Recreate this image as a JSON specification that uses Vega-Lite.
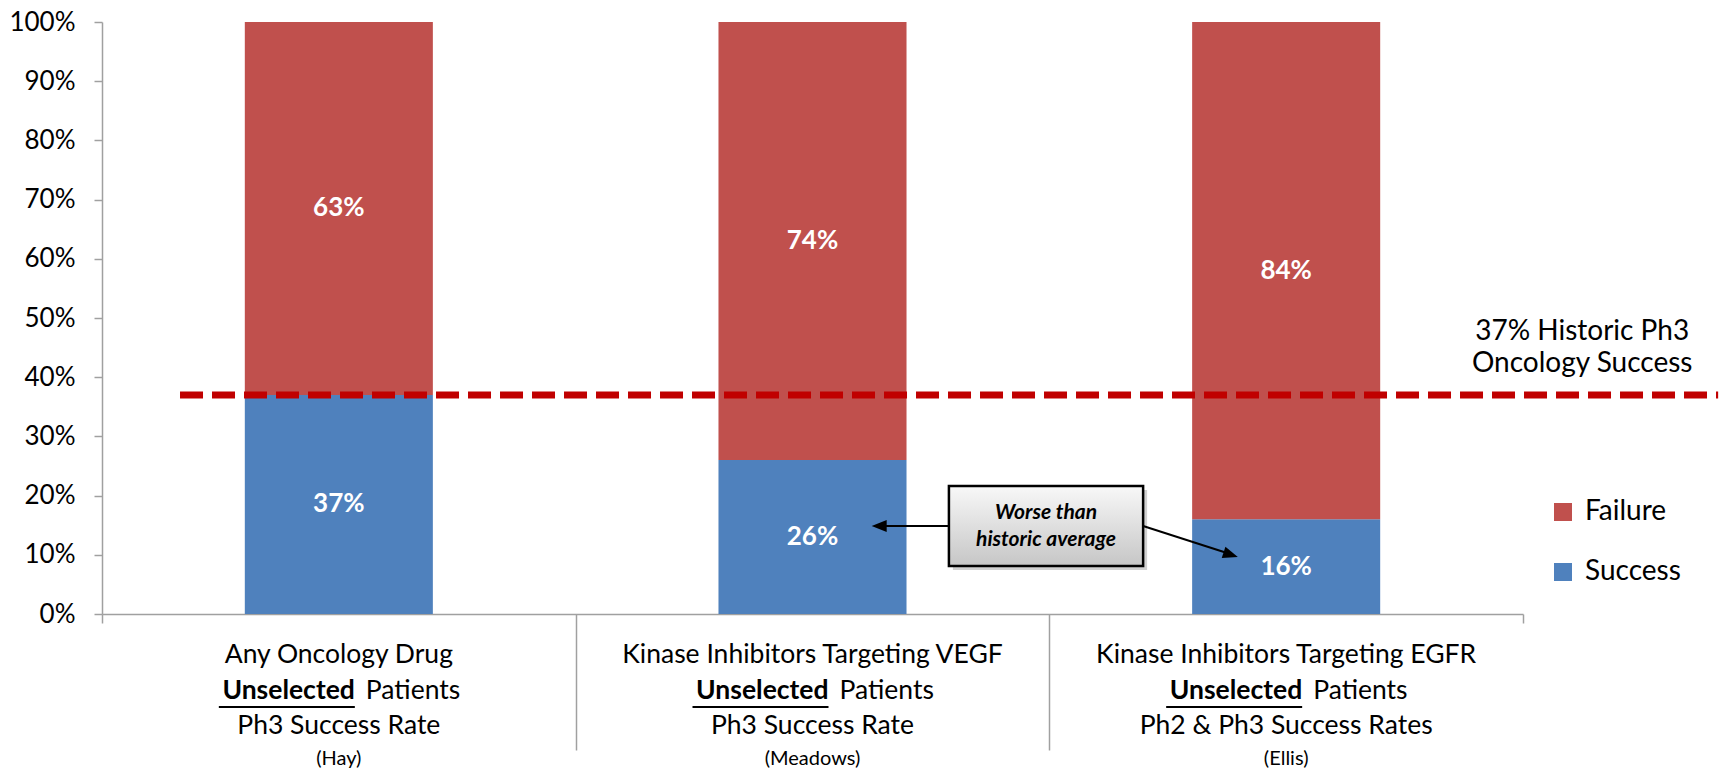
{
  "$schema": "https://vega.github.io/schema/vega-lite/v6.json",
  "width": 1421,
  "height": 592,
  "autosize": {"type": "none"},
  "padding": {"left": 102, "top": 22, "right": 206, "bottom": 158},
  "background": "white",
  "config": {
    "view": {"stroke": null},
    "font": "Lato",
    "axis": {"domainColor": "#a0a0a0", "tickColor": "#a0a0a0", "domainWidth": 1.5, "tickWidth": 1.5}
  },
  "datasets": {
    "outcomes": [
      {"category": "Any Oncology Drug", "outcome": "Success", "share": 0.37},
      {"category": "Any Oncology Drug", "outcome": "Failure", "share": 0.63},
      {"category": "Kinase Inhibitors Targeting VEGF", "outcome": "Success", "share": 0.26},
      {"category": "Kinase Inhibitors Targeting VEGF", "outcome": "Failure", "share": 0.74},
      {"category": "Kinase Inhibitors Targeting EGFR", "outcome": "Success", "share": 0.16},
      {"category": "Kinase Inhibitors Targeting EGFR", "outcome": "Failure", "share": 0.84}
    ],
    "labels": [
      {"category": "Any Oncology Drug", "measure": "Ph3 Success Rate", "source": "(Hay)"},
      {"category": "Kinase Inhibitors Targeting VEGF", "measure": "Ph3 Success Rate", "source": "(Meadows)"},
      {"category": "Kinase Inhibitors Targeting EGFR", "measure": "Ph2 & Ph3 Success Rates", "source": "(Ellis)"}
    ]
  },
  "resolve": {"scale": {"x": "independent"}},
  "layer": [
    {
      "layer": [
        {
          "data": {"name": "outcomes"},
          "mark": {"type": "bar", "width": {"band": 0.397}},
          "encoding": {
            "x": {
              "field": "category",
              "type": "nominal",
              "sort": null,
              "scale": {
                "domain": ["Any Oncology Drug", "Kinase Inhibitors Targeting VEGF", "Kinase Inhibitors Targeting EGFR"],
                "paddingInner": 0,
                "paddingOuter": 0
              },
              "axis": {
                "title": null,
                "labels": false,
                "tickBand": "extent",
                "tickSize": {
                  "condition": {"test": "!datum.extra && datum.value !== 'Kinase Inhibitors Targeting EGFR'", "value": 136},
                  "value": 9
                }
              }
            },
            "y": {
              "field": "share",
              "type": "quantitative",
              "stack": "zero",
              "scale": {"domain": [0, 1], "nice": false},
              "axis": {
                "title": null,
                "grid": false,
                "format": ".0%",
                "values": [0, 0.1, 0.2, 0.3, 0.4, 0.5, 0.6, 0.7, 0.8, 0.9, 1],
                "tickSize": 8,
                "labelPadding": 19,
                "labelFontSize": 26,
                "labelColor": "#000000"
              }
            },
            "color": {
              "field": "outcome",
              "type": "nominal",
              "scale": {"domain": ["Failure", "Success"], "range": ["#c0504d", "#4f81bd"]},
              "legend": {
                "title": null,
                "orient": "none",
                "legendX": 1447,
                "legendY": 476,
                "padding": 0,
                "symbolType": "square",
                "symbolSize": 324,
                "symbolStrokeWidth": 0,
                "labelFontSize": 28,
                "labelColor": "#000000",
                "labelOffset": 8,
                "rowPadding": 32
              }
            },
            "order": {"field": "outcome", "sort": "descending"}
          }
        },
        {
          "data": {"name": "outcomes"},
          "mark": {"type": "text", "color": "white", "fontWeight": "bold", "fontSize": 26, "baseline": "middle"},
          "encoding": {
            "x": {"field": "category", "type": "nominal", "sort": null},
            "y": {"field": "share", "type": "quantitative", "stack": "zero", "bandPosition": 0.5},
            "detail": {"field": "outcome"},
            "order": {"field": "outcome", "sort": "descending"},
            "text": {"field": "share", "type": "quantitative", "format": ".0%"}
          }
        },
        {
          "data": {"name": "labels"},
          "mark": {"type": "text", "fontSize": 26.5, "baseline": "alphabetic", "dy": 49, "color": "#000000"},
          "encoding": {
            "x": {"field": "category", "type": "nominal", "sort": null},
            "y": {"datum": 0},
            "text": {"field": "category"}
          }
        },
        {
          "data": {"name": "labels"},
          "mark": {"type": "text", "fontSize": 26.5, "fontWeight": "bold", "align": "right", "baseline": "alphabetic", "dx": 16, "dy": 85, "color": "#000000"},
          "encoding": {
            "x": {"field": "category", "type": "nominal", "sort": null},
            "y": {"datum": 0},
            "text": {"value": "Unselected"}
          }
        },
        {
          "data": {"name": "labels"},
          "mark": {"type": "rule", "color": "#000000", "strokeWidth": 2, "xOffset": -120, "x2Offset": 16, "yOffset": 93},
          "encoding": {
            "x": {"field": "category", "type": "nominal", "sort": null, "bandPosition": 0.5},
            "x2": {"field": "category", "bandPosition": 0.5},
            "y": {"datum": 0}
          }
        },
        {
          "data": {"name": "labels"},
          "mark": {"type": "text", "fontSize": 26.5, "align": "left", "baseline": "alphabetic", "dx": 27, "dy": 85, "color": "#000000"},
          "encoding": {
            "x": {"field": "category", "type": "nominal", "sort": null},
            "y": {"datum": 0},
            "text": {"value": "Patients"}
          }
        },
        {
          "data": {"name": "labels"},
          "mark": {"type": "text", "fontSize": 26.5, "baseline": "alphabetic", "dy": 120, "color": "#000000"},
          "encoding": {
            "x": {"field": "category", "type": "nominal", "sort": null},
            "y": {"datum": 0},
            "text": {"field": "measure"}
          }
        },
        {
          "data": {"name": "labels"},
          "mark": {"type": "text", "fontSize": 20, "baseline": "alphabetic", "dy": 151, "color": "#000000"},
          "encoding": {
            "x": {"field": "category", "type": "nominal", "sort": null},
            "y": {"datum": 0},
            "text": {"field": "source"}
          }
        }
      ]
    },
    {
      "data": {"values": [{}]},
      "layer": [
        {
          "mark": {"type": "rule", "color": "#c00000", "strokeWidth": 7, "strokeDash": [23, 9], "strokeCap": "butt"},
          "encoding": {
            "x": {"datum": 0.1647, "type": "quantitative", "scale": {"domain": [0, 3]}, "axis": null},
            "x2": {"datum": 3.412},
            "y": {"datum": 0.37, "type": "quantitative"}
          }
        },
        {
          "mark": {"type": "text", "fontSize": 28, "align": "center", "baseline": "alphabetic", "lineBreak": "\n", "lineHeight": 32, "color": "#000000"},
          "encoding": {
            "x": {"datum": 3.125, "type": "quantitative"},
            "y": {"datum": 0.4628, "type": "quantitative"},
            "text": {"value": "37% Historic Ph3\nOncology Success"}
          }
        },
        {
          "mark": {"type": "rect", "color": "#000000", "opacity": 0.18, "xOffset": 4, "x2Offset": 4, "yOffset": 4, "y2Offset": 4},
          "encoding": {
            "x": {"datum": 1.788, "type": "quantitative"},
            "x2": {"datum": 2.198},
            "y": {"datum": 0.2162, "type": "quantitative"},
            "y2": {"datum": 0.0811}
          }
        },
        {
          "mark": {
            "type": "rect",
            "stroke": "#000000",
            "strokeWidth": 2.5,
            "fill": {
              "gradient": "linear", "x1": 0, "y1": 0, "x2": 0, "y2": 1,
              "stops": [{"offset": 0, "color": "#f8f8f8"}, {"offset": 1, "color": "#c6c6c6"}]
            }
          },
          "encoding": {
            "x": {"datum": 1.788, "type": "quantitative"},
            "x2": {"datum": 2.198},
            "y": {"datum": 0.2162, "type": "quantitative"},
            "y2": {"datum": 0.0811}
          }
        },
        {
          "mark": {"type": "text", "fontSize": 21, "fontWeight": "bold", "fontStyle": "italic", "align": "center", "baseline": "middle", "lineBreak": "\n", "lineHeight": 27, "color": "#000000"},
          "encoding": {
            "x": {"datum": 1.993, "type": "quantitative"},
            "y": {"datum": 0.1706, "type": "quantitative"},
            "text": {"value": "Worse than\nhistoric average"}
          }
        },
        {
          "mark": {"type": "rule", "color": "#000000", "strokeWidth": 2},
          "encoding": {
            "x": {"datum": 1.788, "type": "quantitative"},
            "x2": {"datum": 1.632},
            "y": {"datum": 0.1486, "type": "quantitative"},
            "y2": {"datum": 0.1486}
          }
        },
        {
          "mark": {"type": "rule", "color": "#000000", "strokeWidth": 2},
          "encoding": {
            "x": {"datum": 2.198, "type": "quantitative"},
            "x2": {"datum": 2.385},
            "y": {"datum": 0.1486, "type": "quantitative"},
            "y2": {"datum": 0.1004}
          }
        },
        {
          "mark": {"type": "point", "shape": "M0,0L2,-0.8L2,0.8Z", "filled": true, "color": "#000000", "opacity": 1, "size": 225},
          "encoding": {
            "x": {"datum": 1.625, "type": "quantitative"},
            "y": {"datum": 0.1486, "type": "quantitative"}
          }
        },
        {
          "mark": {"type": "point", "shape": "M0,0L-2,-0.8L-2,0.8Z", "filled": true, "color": "#000000", "opacity": 1, "size": 225, "angle": 18},
          "encoding": {
            "x": {"datum": 2.398, "type": "quantitative"},
            "y": {"datum": 0.0963, "type": "quantitative"}
          }
        }
      ]
    }
  ]
}
